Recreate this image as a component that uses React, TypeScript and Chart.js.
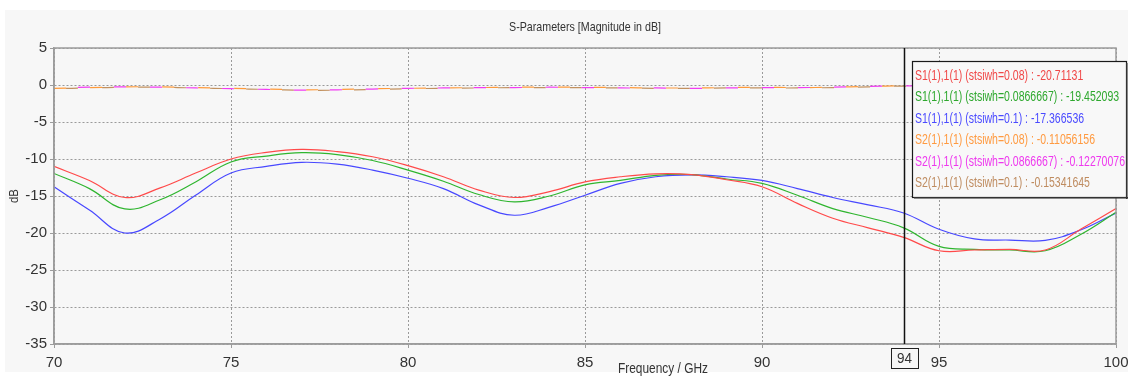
import React, { useEffect, useRef } from "react";
import { Chart, registerables } from "chart.js";

Chart.register(...registerables);

const frequencies = [70, 71, 72, 73, 74, 75, 76, 77, 78, 79, 80, 81, 82, 83, 84, 85, 86, 87, 88, 89, 90, 91, 92, 93, 94, 95, 96, 97, 98, 99, 100];

const s11_008 = [-11.0, -12.9, -15.2, -13.9, -11.9, -10.0, -9.1, -8.7, -9.0, -9.7, -10.9, -12.4, -14.2, -15.2, -14.4, -13.1, -12.4, -12.0, -12.1, -12.8, -13.75, -16.0, -18.0, -19.3, -20.6, -22.4, -22.3, -22.2, -22.3, -19.5, -16.7];
const s11_0087 = [-11.95, -14.0, -16.75, -15.5, -13.1, -10.4, -9.6, -9.15, -9.4, -10.2, -11.5, -13.0, -14.8, -15.8, -15.0, -13.5, -12.9, -12.2, -12.1, -12.7, -13.3, -14.9, -16.7, -17.9, -19.3, -21.8, -22.2, -22.3, -22.4, -20.2, -17.2];
const s11_01 = [-13.75, -16.9, -20.0, -18.1, -14.9, -11.9, -11.0, -10.45, -10.7, -11.5, -12.6, -14.0, -16.2, -17.6, -16.5, -14.9, -13.3, -12.4, -12.15, -12.4, -12.9, -14.0, -15.2, -16.2, -17.3, -19.5, -20.8, -20.95, -21.0, -19.6, -17.3];
const s21_008 = [-0.45, -0.35, -0.25, -0.25, -0.35, -0.45, -0.55, -0.65, -0.6, -0.5, -0.45, -0.4, -0.35, -0.3, -0.3, -0.3, -0.35, -0.4, -0.4, -0.35, -0.3, -0.35, -0.3, -0.2, -0.11, -0.15, -0.2, -0.25, -0.3, -0.3, -0.25];
const s21_0087 = [-0.4, -0.3, -0.25, -0.3, -0.4, -0.5, -0.6, -0.7, -0.65, -0.55, -0.45, -0.4, -0.35, -0.35, -0.3, -0.35, -0.4, -0.4, -0.45, -0.4, -0.35, -0.35, -0.3, -0.2, -0.12, -0.15, -0.2, -0.25, -0.3, -0.3, -0.3];
const s21_01 = [-0.5, -0.4, -0.3, -0.3, -0.4, -0.5, -0.6, -0.7, -0.7, -0.6, -0.5, -0.45, -0.4, -0.35, -0.35, -0.35, -0.4, -0.45, -0.45, -0.4, -0.4, -0.4, -0.35, -0.25, -0.15, -0.2, -0.25, -0.3, -0.35, -0.35, -0.35];

const seriesLabels = [
  "S1(1),1(1) (stsiwh=0.08) : -20.71131",
  "S1(1),1(1) (stsiwh=0.0866667) : -19.452093",
  "S1(1),1(1) (stsiwh=0.1) : -17.366536",
  "S2(1),1(1) (stsiwh=0.08) : -0.11056156",
  "S2(1),1(1) (stsiwh=0.0866667) : -0.12270076",
  "S2(1),1(1) (stsiwh=0.1) : -0.15341645",
];
const lineColors = ["#ff4a4a", "#2fb52f", "#4848ff", "#ff9a3a", "#f23cf2", "#c2915f"];
const textColors = ["#f04848", "#2ea82e", "#4a4aff", "#ff9a40", "#ee38ee", "#bf8c60"];

const titleText = "S-Parameters [Magnitude in dB]";
const xTitle = "Frequency / GHz";
const yTitle = "dB";
const markerFreq = 94;
const xMin = 70, xMax = 100, yMin = -35, yMax = 5, tickStep = 5;

const FONT = "'Liberation Sans', Arial, sans-serif";

function drawText(ctx: CanvasRenderingContext2D, text: string, x: number, y: number, size: number, color: string, align: "left" | "center" | "right", targetW?: number) {
  ctx.save();
  ctx.font = `${size}px ${FONT}`;
  ctx.fillStyle = color;
  ctx.textBaseline = "middle";
  const w = ctx.measureText(text).width;
  const sx = targetW ? targetW / w : 1;
  let left = x;
  if (align === "center") left = x - (w * sx) / 2;
  if (align === "right") left = x - w * sx;
  ctx.translate(left, y);
  ctx.scale(sx, 1);
  ctx.textAlign = "left";
  ctx.fillText(text, 0, 0);
  ctx.restore();
}

const decorPlugin = {
  id: "decor",
  beforeDraw(chart: any) {
    const ctx = chart.ctx as CanvasRenderingContext2D;
    ctx.save();
    ctx.fillStyle = "#ffffff";
    ctx.fillRect(0, 0, chart.width, chart.height);
    ctx.fillStyle = "#f7f7f7";
    ctx.fillRect(5, 10, chart.width - 5, chart.height - 14);
    ctx.restore();
    const ca = chart.chartArea;
    drawText(ctx, titleText, (ca.left + ca.right) / 2, 27, 13, "#333", "center", 152);
  },
  afterDraw(chart: any) {
    const ctx = chart.ctx as CanvasRenderingContext2D;
    const ca = chart.chartArea;
    const xs = chart.scales.x;
    // frame
    ctx.save();
    ctx.strokeStyle = "#9c9c9c";
    ctx.lineWidth = 1.5;
    ctx.strokeRect(ca.left, ca.top, ca.right - ca.left, ca.bottom - ca.top);
    ctx.restore();
    // marker
    const mx = Math.round(xs.getPixelForValue(markerFreq)) + 0.5;
    ctx.save();
    ctx.strokeStyle = "#111";
    ctx.lineWidth = 1.5;
    ctx.beginPath();
    ctx.moveTo(mx, ca.top);
    ctx.lineTo(mx, ca.bottom);
    ctx.stroke();
    ctx.fillStyle = "#f7f7f7";
    ctx.fillRect(mx - 13, 348, 27, 21);
    ctx.strokeStyle = "#222";
    ctx.lineWidth = 1;
    ctx.strokeRect(mx - 13, 348.5, 27, 20);
    ctx.restore();
    drawText(ctx, String(markerFreq), mx, 359, 14, "#333", "center", 15);
    // axis titles
    drawText(ctx, xTitle, (ca.left + ca.right) / 2 + 78, 369, 14, "#333", "center", 90);
    ctx.save();
    ctx.translate(14, (ca.top + ca.bottom) / 2);
    ctx.rotate(-Math.PI / 2);
    drawText(ctx, yTitle, 0, 0, 13, "#333", "center", 14);
    ctx.restore();
    // legend box
    const bx = 912, by = 61, bw = 214, bh = 136;
    ctx.save();
    ctx.fillStyle = "#f8f8f8";
    ctx.fillRect(bx, by, bw, bh);
    ctx.strokeStyle = "#1a1a1a";
    ctx.lineWidth = 1.2;
    ctx.strokeRect(bx + 0.5, by + 0.5, bw, bh);
    ctx.fillStyle = "#333";
    ctx.fillRect(bx + bw, by + 2, 1.5, bh);
    ctx.fillRect(bx + 2, by + bh, bw, 1.5);
    ctx.restore();
    ctx.save();
    ctx.font = `14px ${FONT}`;
    const ref = ctx.measureText(seriesLabels[4]).width;
    ctx.restore();
    const sx = 210 / ref;
    const rowYs = [76, 97.5, 119, 140.5, 162, 183.5];
    seriesLabels.forEach((t, i) => {
      ctx.save();
      ctx.font = `14px ${FONT}`;
      const w = ctx.measureText(t).width;
      ctx.restore();
      drawText(ctx, t, 915, rowYs[i], 14, textColors[i], "left", w * sx);
    });
  },
};

export default function App() {
  const ref = useRef<HTMLCanvasElement | null>(null);
  useEffect(() => {
    if (!ref.current) return;
    const all = [s11_008, s11_0087, s11_01, s21_008, s21_0087, s21_01];
    const datasets = all.map((arr, i) => ({
      label: seriesLabels[i],
      data: frequencies.map((f, j) => ({ x: f, y: arr[j] })),
      borderColor: lineColors[i],
      backgroundColor: lineColors[i],
      borderWidth: 1.2,
      pointRadius: 0,
      tension: 0.4,
      fill: false,
      borderDash: i >= 3 ? [12, 24] : [],
      borderDashOffset: i >= 3 ? (i - 3) * 12 : 0,
    }));
    const chart = new Chart(ref.current, {
      type: "line",
      data: { datasets },
      plugins: [decorPlugin],
      options: {
        animation: false,
        responsive: false,
        maintainAspectRatio: false,
        layout: { padding: { top: 48, right: 0, left: 0, bottom: 0 } },
        plugins: { legend: { display: false }, tooltip: { enabled: false }, title: { display: false } },
        scales: {
          x: {
            type: "linear",
            min: xMin,
            max: xMax,
            afterFit: (s: any) => { s.height = 32; s.paddingRight = 12; s.paddingLeft = 0; },
            ticks: { stepSize: tickStep, color: "#333", font: { family: FONT, size: 15 }, padding: 6, maxRotation: 0 },
            grid: { color: "#9a9a9a", lineWidth: 1, tickLength: 4, tickColor: "#9c9c9c", drawTicks: true },
            border: { display: true, color: "#9c9c9c", width: 1.5, dash: [2, 2] },
          },
          y: {
            type: "linear",
            min: yMin,
            max: yMax,
            afterFit: (s: any) => { s.width = 54; },
            ticks: { stepSize: tickStep, color: "#333", font: { family: FONT, size: 15 }, padding: 3 },
            grid: { color: "#9a9a9a", lineWidth: 1, tickLength: 4, tickColor: "#9c9c9c", drawTicks: true },
            border: { display: true, color: "#9c9c9c", width: 1.5, dash: [2, 2] },
          },
        },
      } as any,
    });
    return () => chart.destroy();
  }, []);
  return (
    <div style={{ position: "absolute", left: 0, top: 0, width: 1128, height: 376 }}>
      <canvas ref={ref} width={1128} height={376} style={{ display: "block", width: 1128, height: 376 }} />
    </div>
  );
}
